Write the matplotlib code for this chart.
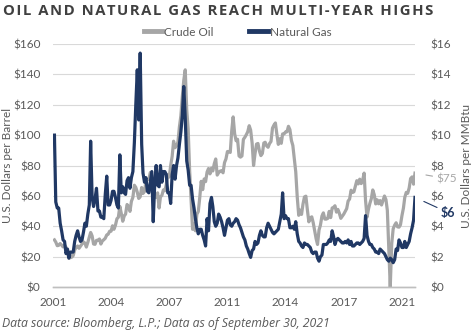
import matplotlib
matplotlib.use("Agg")
import matplotlib.pyplot as plt
import pandas as pd

# monthly closes, Jan 2001 - Sep 2021
crude_oil = [
    31.0, 29.6, 27.2, 27.4, 28.6, 27.6, 26.4, 27.4, 26.2, 22.2, 19.0, 19.3,
    19.7, 20.7, 24.4, 26.2, 27.0, 25.5, 26.9, 28.4, 29.7, 28.9, 26.3, 29.4,
    32.9, 35.9, 33.6, 28.3, 28.1, 30.7, 30.8, 31.6, 28.3, 30.3, 31.1, 32.1,
    34.3, 34.7, 36.7, 36.7, 40.3, 38.0, 40.7, 44.9, 45.9, 53.1, 48.5, 43.3,
    46.8, 48.0, 54.3, 53.0, 49.8, 56.4, 59.0, 67.0, 65.6, 62.4, 58.3, 59.4,
    65.5, 61.6, 62.9, 69.4, 70.8, 70.9, 75.4, 73.0, 63.8, 58.9, 59.1, 62.0,
    52.0, 59.3, 60.4, 63.9, 63.4, 67.5, 74.1, 72.4, 79.9, 86.0, 96.0, 91.7,
    93.0, 95.4, 105.5, 112.6, 125.4, 136.0, 143.0, 116.7, 104.1, 76.6, 57.3, 38.0,
    41.7, 37.0, 47.9, 49.7, 59.0, 69.6, 64.1, 71.1, 69.4, 75.7, 78.0, 74.5,
    78.3, 76.4, 81.2, 84.3, 73.7, 75.3, 76.3, 76.6, 75.2, 81.9, 84.3, 89.2,
    89.2, 88.6, 102.9, 112.0, 100.9, 96.3, 97.3, 86.3, 85.5, 86.3, 97.2, 98.6,
    100.3, 102.2, 106.2, 103.3, 94.7, 80.0, 87.9, 94.1, 94.5, 89.5, 86.5, 87.9,
    94.8, 95.3, 92.9, 92.0, 94.5, 95.8, 104.6, 106.6, 108.0, 100.5, 93.9, 97.6,
    94.6, 100.8, 100.8, 102.1, 102.2, 105.8, 103.6, 96.5, 93.2, 84.4, 75.8, 59.3,
    47.2, 50.6, 47.8, 54.5, 59.3, 59.8, 50.9, 42.9, 45.5, 46.2, 42.4, 37.2,
    31.7, 28.0, 37.5, 40.8, 46.7, 48.8, 44.7, 44.7, 45.2, 49.8, 45.7, 52.0,
    52.5, 53.5, 49.3, 51.1, 48.5, 45.2, 46.6, 48.0, 49.8, 51.6, 56.6, 57.9,
    63.7, 62.2, 62.7, 66.3, 70.0, 67.9, 71.0, 68.1, 70.2, 75.0, 57.0, 46.0,
    51.4, 55.0, 58.2, 63.9, 60.8, 54.7, 57.4, 54.8, 56.9, 54.0, 57.0, 59.9,
    57.5, 50.5, 24.0, 0.0, 28.5, 38.3, 40.7, 42.3, 39.6, 39.4, 41.0, 47.0,
    52.0, 59.0, 62.3, 61.7, 65.2, 71.4, 72.5, 67.7, 75.0,
]
natural_gas = [
    10.0, 5.6, 5.2, 5.2, 4.2, 3.7, 3.1, 3.0, 2.2, 2.5, 1.9, 2.3,
    2.3, 2.3, 3.0, 3.4, 3.7, 3.3, 3.0, 3.1, 3.6, 4.2, 4.0, 4.8,
    5.4, 9.6, 5.9, 5.3, 5.8, 6.5, 5.0, 5.0, 4.6, 4.6, 4.5, 6.1,
    7.3, 5.4, 5.4, 5.7, 6.3, 6.3, 5.9, 5.4, 5.2, 8.7, 6.2, 6.6,
    6.2, 6.1, 7.0, 7.2, 6.5, 7.2, 7.6, 9.5, 12.0, 14.3, 11.0, 15.4,
    9.4, 7.5, 6.9, 7.2, 6.3, 6.2, 6.9, 7.6, 4.3, 6.8, 8.0, 6.7,
    6.6, 8.0, 6.9, 7.6, 7.6, 7.4, 6.2, 6.2, 5.5, 7.4, 8.0, 7.1,
    8.0, 8.5, 9.4, 10.2, 11.3, 13.2, 11.1, 8.3, 7.7, 6.7, 6.7, 5.8,
    5.2, 4.5, 3.9, 3.5, 3.8, 3.8, 3.4, 3.1, 2.7, 4.5, 3.7, 5.5,
    5.9, 5.3, 4.3, 4.0, 4.2, 4.8, 4.6, 4.3, 3.9, 3.4, 3.9, 4.4,
    4.5, 4.1, 4.0, 4.2, 4.3, 4.5, 4.4, 4.1, 3.9, 3.6, 3.3, 3.1,
    2.7, 2.5, 2.2, 1.95, 2.4, 2.5, 3.0, 2.8, 2.9, 3.4, 3.7, 3.4,
    3.3, 3.3, 3.9, 4.2, 4.0, 3.8, 3.6, 3.5, 3.6, 3.7, 3.8, 4.3,
    4.8, 6.2, 4.5, 4.7, 4.5, 4.5, 3.9, 3.9, 4.0, 3.8, 4.3, 3.5,
    3.0, 2.9, 2.7, 2.6, 2.9, 2.8, 2.8, 2.7, 2.6, 2.3, 2.2, 2.3,
    2.3, 1.9, 1.7, 2.0, 2.1, 2.8, 2.8, 2.8, 2.9, 3.1, 3.0, 3.7,
    3.3, 2.8, 3.1, 3.2, 3.1, 3.0, 2.9, 2.9, 3.0, 2.9, 3.1, 2.8,
    3.0, 2.7, 2.7, 2.8, 2.9, 2.9, 2.8, 2.9, 3.0, 3.2, 4.7, 3.4,
    3.0, 2.8, 2.8, 2.6, 2.5, 2.3, 2.3, 2.2, 2.5, 2.4, 2.3, 2.2,
    2.0, 1.8, 1.7, 1.9, 1.8, 1.6, 1.8, 2.5, 2.4, 3.1, 2.9, 2.6,
    2.6, 3.0, 2.6, 2.8, 3.0, 3.5, 3.9, 4.4, 5.9,
]
dates = pd.date_range("2001-01-31", periods=len(crude_oil), freq="ME")

tick_dates = pd.to_datetime(["2001-01-01", "2004-05-01", "2007-09-01", "2011-01-01",
                             "2014-05-01", "2017-09-01", "2021-01-01"])
tick_labels = ["2001", "2004", "2007", "2011", "2014", "2017", "2021"]
oil_ticks = [0, 20, 40, 60, 80, 100, 120, 140, 160]
gas_ticks = [0, 2, 4, 6, 8, 10, 12, 14, 16]

title = "OIL AND NATURAL GAS REACH MULTI-YEAR HIGHS"
source = "Data source: Bloomberg, L.P.; Data as of September 30, 2021"

GRAY = "#A6A6A6"
NAVY = "#203864"
TEXT = "#595959"

plt.rcParams["font.family"] = ["Lato", "DejaVu Sans"]

fig = plt.figure(figsize=(4.75, 3.36), dpi=100)
ax = fig.add_axes([53 / 475, 1 - 287 / 336, 362 / 475, 243 / 336])
ax2 = ax.twinx()

ax.plot(dates, crude_oil, color=GRAY, lw=2.3, label="Crude Oil", solid_joinstyle="round")
ax2.plot(dates, natural_gas, color=NAVY, lw=2.3, label="Natural Gas", solid_joinstyle="round")

ax.set_xlim(pd.Timestamp("2001-01-01"), pd.Timestamp("2021-09-30"))
ax.set_ylim(0, 160)
ax2.set_ylim(0, 16)
ax.set_yticks(oil_ticks)
ax.set_yticklabels([f"${v}" for v in oil_ticks])
ax2.set_yticks(gas_ticks)
ax2.set_yticklabels([f"${v}" for v in gas_ticks])
ax.set_xticks(tick_dates)
ax.set_xticklabels(tick_labels)

ax.grid(axis="y", color="#D9D9D9", lw=0.8)
ax.set_axisbelow(True)
for a in (ax, ax2):
    for s in ("top", "left", "right"):
        a.spines[s].set_visible(False)
    a.spines["bottom"].set_color("#BFBFBF")
    a.spines["bottom"].set_linewidth(1.0)
ax.tick_params(axis="y", length=0, pad=9, labelsize=8.5, labelcolor=TEXT)
ax2.tick_params(axis="y", length=0, pad=11, labelsize=8.5, labelcolor=TEXT)
ax.tick_params(axis="x", length=0, pad=7, labelsize=8.5, labelcolor=TEXT)

# last values, with short leader lines
oil_end, gas_end = crude_oil[-1], natural_gas[-1]
ax.annotate(f"${oil_end:.0f}", xy=(dates[-1], oil_end), xytext=(23, -4),
            textcoords="offset points", color=GRAY, fontsize=8.5, va="center", ha="center",
            annotation_clip=False,
            arrowprops=dict(arrowstyle="-", color=GRAY, lw=0.8, shrinkA=1, shrinkB=8))
ax2.annotate(f"${gas_end:.0f}", xy=(dates[-1], gas_end), xytext=(24, -11),
             textcoords="offset points", color=NAVY, fontsize=9, fontweight="bold",
             va="center", ha="center", annotation_clip=False,
             arrowprops=dict(arrowstyle="-", color=NAVY, lw=0.8, shrinkA=1, shrinkB=7))

fig.text(8 / 475, 0.507, "U.S. Dollars per Barrel", rotation=90, color=TEXT,
         fontsize=8.5, ha="center", va="center")
fig.text(467 / 475, 0.507, "U.S. Dollars per MMBtu", rotation=90, color=TEXT,
         fontsize=8.5, ha="center", va="center")

h1, l1 = ax.get_legend_handles_labels()
h2, l2 = ax2.get_legend_handles_labels()
leg = fig.legend(h1 + h2, l1 + l2, loc="center", bbox_to_anchor=(0.50, 1 - 32 / 336),
                 ncol=2, frameon=False, fontsize=8.5, handlelength=1.6,
                 handletextpad=0.15, columnspacing=3.0, labelcolor=TEXT)
for line in leg.get_lines():
    line.set_linewidth(3.5)

fig.text(3 / 475, 1 - 11 / 336, "\u200a".join(title), fontsize=10.7, fontweight="bold",
         color="#404040", ha="left", va="center", family=["Open Sans", "DejaVu Sans"])
fig.text(2 / 475, 1 - 324 / 336, source, fontsize=8.8, style="italic",
         color=TEXT, ha="left", va="center", family=["Open Sans", "DejaVu Sans"])

fig.savefig("out.png", dpi=100)
